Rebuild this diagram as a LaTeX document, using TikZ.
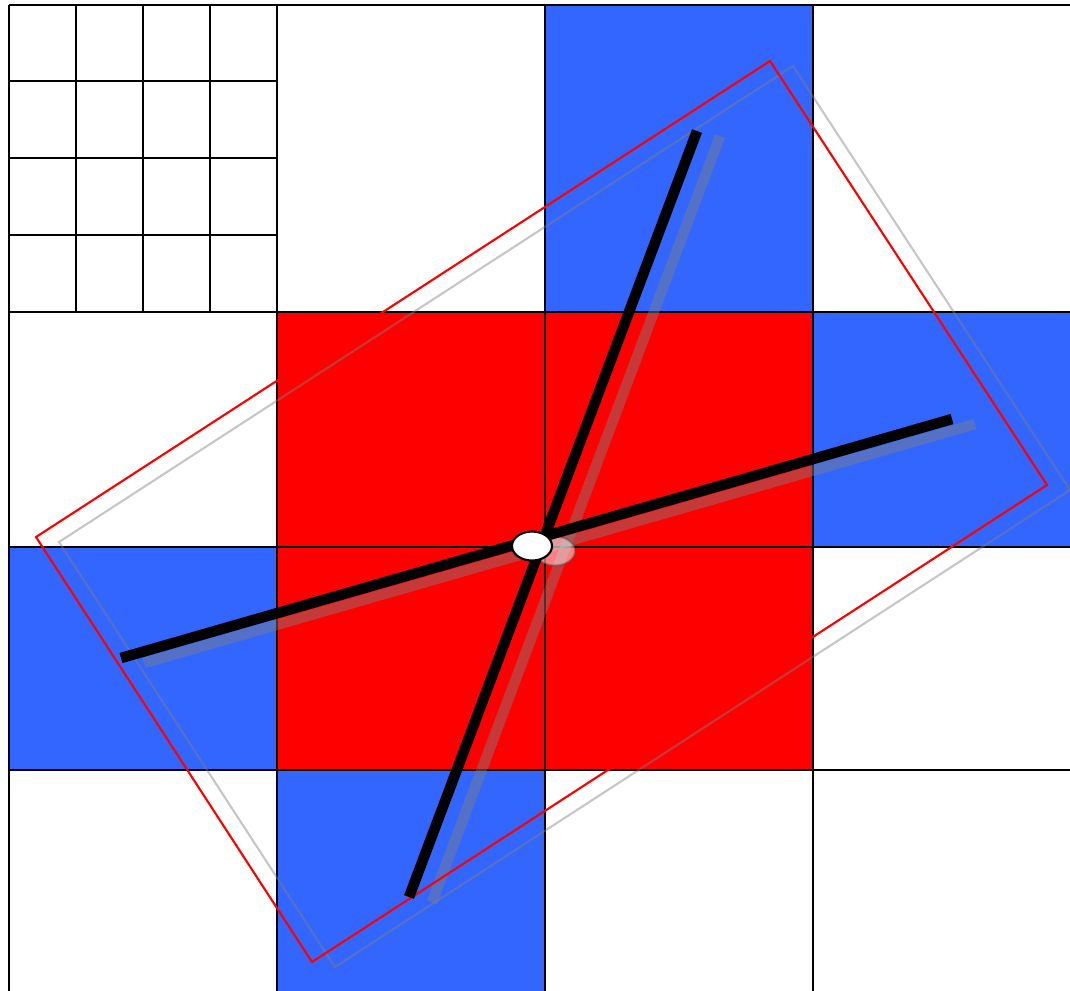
\documentclass[tikz,border=0pt]{standalone}
\usetikzlibrary{shapes.geometric}
\definecolor{cellblue}{HTML}{3366FF}

\begin{document}
\begin{tikzpicture}[x=0.01cm, y=-0.01cm,
    gridline/.style={black, line width=0.8pt},
    bar/.style={line width=3pt},
    frame/.style={line width=0.6pt},
    hub/.style={ellipse, draw, line width=0.6pt, fill=white, minimum width=0.4cm, minimum height=0.29cm, inner sep=0pt}]
    \useasboundingbox (0,0) rectangle (1070,990);
    \clip (0,0) rectangle (1070,990);

    % coloured cells
    \fill[red] (277,312) rectangle (813,770);
    \fill[cellblue] (545,5) rectangle (813,312);
    \fill[cellblue] (813,312) rectangle (1080,547);
    \fill[cellblue] (9,547) rectangle (277,770);
    \fill[cellblue] (277,770) rectangle (545,1000);

    % grid
    \foreach \x in {9,277,545,813}
        \draw[gridline] (\x,5) -- (\x,1000);
    \foreach \y in {5,312,547,770}
        \draw[gridline] (9,\y) -- (1080,\y);
    \foreach \x in {76,143,210}
        \draw[gridline] (\x,5) -- (\x,312);
    \foreach \y in {81,158,235}
        \draw[gridline] (9,\y) -- (277,\y);

    % previous pose, faded
    \begin{scope}[shift={(23,5)}, opacity=0.45]
        \draw[frame, gray] (770,61) -- (1047,485) -- (312,962) -- (36,537) -- cycle;
        \draw[bar, gray] (121,658) -- (952,419);
        \draw[bar, gray] (697,131) -- (409,897);
        \node[hub, draw=gray!60!black, fill opacity=0.5] (oldhub) at (532,546) {};
    \end{scope}

    % current pose
    \draw[frame, red] (770,61) -- (1047,485) -- (312,962) -- (36,537) -- cycle;
    \coordinate (w) at (121,658);
    \coordinate (e) at (952,419);
    \coordinate (n) at (697,131);
    \coordinate (s) at (409,897);
    \draw[bar] (w) -- (e);
    \draw[bar] (n) -- (s);
    \node[hub] (pivot) at (532,546) {};
\end{tikzpicture}
\end{document}
